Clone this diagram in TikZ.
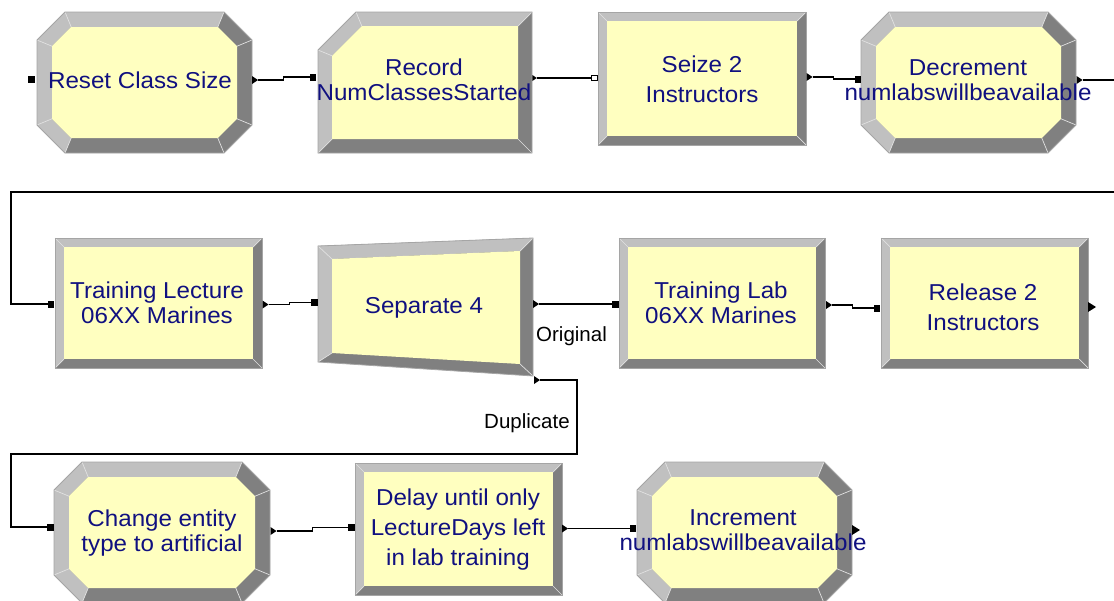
\documentclass[tikz,border=0pt]{standalone}
\usepackage{fontspec}
\newfontfamily\arenafont[FakeStretch=1.05]{Liberation Sans}
\newfontfamily\tagfont{Liberation Sans}
\usetikzlibrary{calc}

\definecolor{panel}{RGB}{255,255,192}
\definecolor{bevlight}{RGB}{192,192,192}
\definecolor{bevdark}{RGB}{128,128,128}
\definecolor{rim}{RGB}{165,165,165}
\definecolor{spoke}{RGB}{225,225,225}
\definecolor{modtext}{RGB}{16,16,128}

\tikzset{
  % multi-line names are placed by the baseline of their last line
  modlabel/.style={font=\arenafont\fontsize{23}{25}\selectfont, text=modtext, align=center, anchor=base, inner sep=0pt},
  modlabelwide/.style={modlabel, font=\arenafont\fontsize{23}{30}\selectfont},
  taglabel/.style={font=\tagfont\fontsize{20.5}{24}\selectfont, text=black, anchor=base west, inner sep=0pt},
  inport/.style={rectangle, fill=black, inner sep=0pt, minimum width=6.5pt, minimum height=7pt},
  openport/.style={rectangle, draw=black, fill=white, line width=1pt, inner sep=0pt, minimum size=5.5pt},
  outport/.style={rectangle, inner sep=0pt, minimum width=6pt, minimum height=8pt,
    path picture={\fill[black] (path picture bounding box.north west) -- (path picture bounding box.east)
                  -- (path picture bounding box.south west) -- cycle;}},
  wire/.style={draw=black, line width=1.2pt},
  jog/.style={to path={-| ($(\tikztostart)!0.5!(\tikztotarget)$) |- (\tikztotarget)}},
  spokeline/.style={draw=spoke, line width=0.7pt},
  rimline/.style={draw=rim, line width=0.8pt},
}

% bevelled octagon (Assign module): x1 y1 x2 y2
\newcommand\octmodule[4]{%
  \path (#1+28,#2) coordinate (o1) (#3-28,#2) coordinate (o2)
        (#3,#2+28) coordinate (o3) (#3,#4-28) coordinate (o4)
        (#3-28,#4) coordinate (o5) (#1+28,#4) coordinate (o6)
        (#1,#4-28) coordinate (o7) (#1,#2+28) coordinate (o8)
        (#1+34.2,#2+15) coordinate (i1) (#3-34.2,#2+15) coordinate (i2)
        (#3-15,#2+34.2) coordinate (i3) (#3-15,#4-34.2) coordinate (i4)
        (#3-34.2,#4-15) coordinate (i5) (#1+34.2,#4-15) coordinate (i6)
        (#1+15,#4-34.2) coordinate (i7) (#1+15,#2+34.2) coordinate (i8);
  \fill[bevdark] (o1)--(o2)--(o3)--(o4)--(o5)--(o6)--(o7)--(o8)--cycle;
  \fill[bevlight] (o6)--(o7)--(o8)--(o1)--(o2)--(i2)--(i1)--(i8)--(i7)--(i6)--cycle;
  \fill[panel] (i1)--(i2)--(i3)--(i4)--(i5)--(i6)--(i7)--(i8)--cycle;
  \draw[spokeline] (o1)--(i1) (o2)--(i2) (o3)--(i3) (o4)--(i4)
                   (o5)--(i5) (o6)--(i6) (o7)--(i7) (o8)--(i8);
  \draw[rimline] (o1)--(o2)--(o3)--(o4)--(o5)--(o6)--(o7)--(o8)--cycle;
}

% bevelled rectangle (Seize, Process, Release, Delay): x1 y1 x2 y2
\newcommand\rectmodule[4]{%
  \fill[bevdark] (#1,#2) rectangle (#3,#4);
  \fill[bevlight] (#1,#4) -- (#1,#2) -- (#3,#2) -- (#3-9,#2+9) -- (#1+9,#2+9) -- (#1+9,#4-9) -- cycle;
  \fill[panel] (#1+9,#2+9) rectangle (#3-9,#4-9);
  \draw[spokeline] (#1,#2)--(#1+9,#2+9) (#3,#2)--(#3-9,#2+9)
                   (#3,#4)--(#3-9,#4-9) (#1,#4)--(#1+9,#4-9);
  \draw[rimline] (#1,#2) rectangle (#3,#4);
}

% bevelled rectangle with the upper left corner cut (Record module): x1 y1 x2 y2
\newcommand\recordmodule[4]{%
  \fill[bevdark] (#1,#2+38) -- (#1+38,#2) -- (#3,#2) -- (#3,#4) -- (#1,#4) -- cycle;
  \fill[bevlight] (#1,#4) -- (#1,#2+38) -- (#1+38,#2) -- (#3,#2) -- (#3-14,#2+14)
     -- (#1+43.8,#2+14) -- (#1+14,#2+43.8) -- (#1+14,#4-14) -- cycle;
  \fill[panel] (#1+14,#2+43.8) -- (#1+43.8,#2+14) -- (#3-14,#2+14) -- (#3-14,#4-14) -- (#1+14,#4-14) -- cycle;
  \draw[spokeline] (#1,#2+38)--(#1+14,#2+43.8) (#1+38,#2)--(#1+43.8,#2+14)
                   (#3,#2)--(#3-14,#2+14) (#3,#4)--(#3-14,#4-14) (#1,#4)--(#1+14,#4-14);
  \draw[rimline] (#1,#2+38) -- (#1+38,#2) -- (#3,#2) -- (#3,#4) -- (#1,#4) -- cycle;
}

\begin{document}
\begin{tikzpicture}[x=1pt, y=-1pt]
\useasboundingbox (0,0) rectangle (1114,600);
\clip (0,0) rectangle (1114,600);
\fill[white] (0,0) rectangle (1114,600);

% ---------- module bodies ----------
\octmodule{37}{12}{252}{153}
\recordmodule{318}{12}{532}{153}
\rectmodule{598}{12}{806}{145}
\octmodule{861}{12}{1076}{153}

\rectmodule{55}{238}{262}{368}
% Separate module: skewed box
\fill[bevdark] (318,246) -- (533,238) -- (533,376) -- (318,362) -- cycle;
\fill[bevlight] (318,362) -- (318,246) -- (533,238) -- (520,251) -- (332,259) -- (332,353) -- cycle;
\fill[panel] (332,259) -- (520,251) -- (520,364) -- (332,353) -- cycle;
\draw[spokeline] (318,246)--(332,259) (533,238)--(520,251) (533,376)--(520,364) (318,362)--(332,353);
\draw[rimline] (318,246) -- (533,238) -- (533,376) -- (318,362) -- cycle;
\rectmodule{619}{238}{825}{368}
\rectmodule{881}{238}{1088}{368}

\octmodule{54}{462}{270}{603}
\rectmodule{355}{463}{562}{595}
\octmodule{637}{462}{852}{603}

% ---------- ports ----------
\node[inport]  (reset-in)  at (31.5,79) {};
\node[outport] (reset-out) at (255,80) {};
\node[inport]  (rec-in)    at (313,77) {};
\node[outport, minimum width=4.5pt, minimum height=6pt] (rec-out) at (534.5,78) {};
\node[openport] (seize-in) at (594.5,78) {};
\node[outport] (seize-out) at (809.5,77) {};
\node[inport]  (dec-in)    at (858,79) {};
\node[outport] (dec-out)   at (1079.5,80) {};

\node[inport]  (lec-in)    at (51,304) {};
\node[outport] (lec-out)   at (265.5,304.5) {};
\node[inport]  (sep-in)    at (314.5,302.5) {};
\node[outport] (sep-orig)  at (536,304) {};
\node[outport] (sep-dup)   at (537,380) {};
\node[inport]  (lab-in)    at (615.5,304) {};
\node[outport] (lab-out)   at (829,305) {};
\node[inport]  (rel-in)    at (877,308) {};
\node[outport, minimum width=8pt, minimum height=10pt] (rel-out) at (1092,307) {};

\node[inport]  (chg-in)    at (50.5,527) {};
\node[outport] (chg-out)   at (273.5,531) {};
\node[inport]  (del-in)    at (351.5,527.5) {};
\node[outport] (del-out)   at (565,528.5) {};
\node[inport]  (inc-in)    at (633,528.5) {};
\node[outport, minimum width=8pt, minimum height=10pt] (inc-out) at (856,530) {};

% bend points of the long connectors
\coordinate (wrapR) at (1130,192);
\coordinate (wrapL) at (11,192);
\coordinate (dupR)  at (577,454);
\coordinate (dupL)  at (11,454);

% ---------- connectors ----------
\draw[wire] (reset-out.east) to[jog] (rec-in.west);
\draw[wire] (rec-out.east) -- (seize-in.west);
\draw[wire] (seize-out.east) to[jog] (dec-in.west);
\draw[wire] (dec-out.east) -| (wrapR) -- (wrapL) |- (lec-in.west);
\draw[wire] (lec-out.east) to[jog] (sep-in.west);
\draw[wire] (sep-orig.east) -- (lab-in.west);
\draw[wire] (lab-out.east) to[jog] (rel-in.west);
\draw[wire] (sep-dup.east) -| (dupR) -- (dupL) |- (chg-in.west);
\draw[wire] (chg-out.east) to[jog] (del-in.west);
\draw[wire] (del-out.east) -- (inc-in.west);

% ---------- module names ----------
\node[modlabel] (reset) at (140,88) {Reset Class Size};
\node[modlabel] (record) at (424,100) {Record\\NumClassesStarted};
\node[modlabelwide] (seize) at (702,102) {Seize 2\\Instructors};
\node[modlabel] (decrement) at (968,100) {Decrement\\numlabswillbeavailable};

\node[modlabel] (lecture) at (157,323) {Training Lecture\\06XX Marines};
\node[modlabel] (separate) at (424,313) {Separate 4};
\node[modlabel] (lab) at (721,323) {Training Lab\\06XX Marines};
\node[modlabelwide] (release) at (983,330) {Release 2\\Instructors};

\node[modlabel] (change) at (162,551) {Change entity\\type to artificial};
\node[modlabelwide] (delay) at (458,565) {Delay until only\\LectureDays left\\in lab training};
\node[modlabel] (increment) at (743,550) {Increment\\numlabswillbeavailable};

% ---------- exit point names of Separate ----------
\node[taglabel] (original) at (536,341) {Original};
\node[taglabel] (duplicate) at (484,428) {Duplicate};
\end{tikzpicture}
\end{document}
